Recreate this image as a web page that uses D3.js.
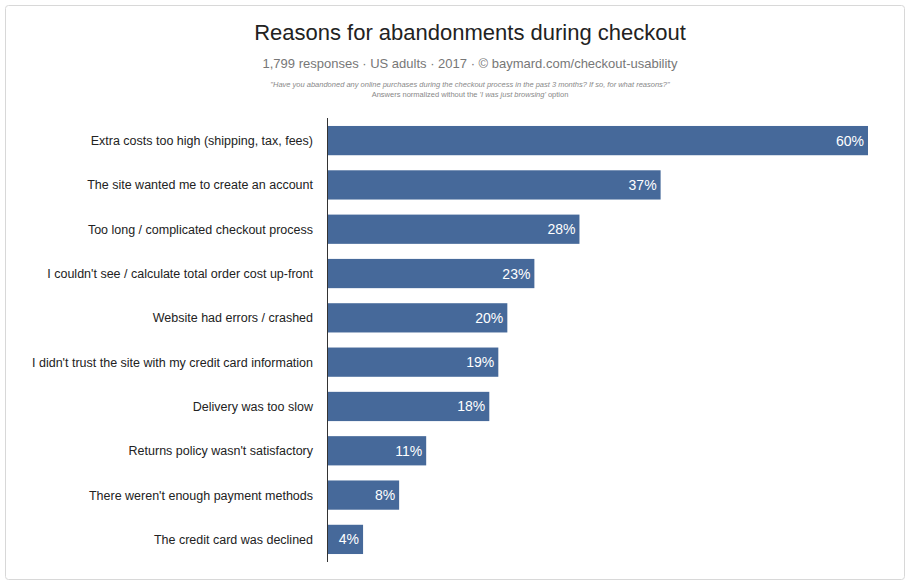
<!DOCTYPE html>
<html><head><meta charset="utf-8">
<script src="https://cdn.jsdelivr.net/npm/d3@7"></script>
<style>body{margin:0;background:#fff;font-family:"Helvetica Neue",Arial,"Liberation Sans",sans-serif}</style>
</head><body><div id="chart"></div>
<script>
const reasons = ["Extra costs too high (shipping, tax, fees)","The site wanted me to create an account","Too long / complicated checkout process","I couldn't see / calculate total order cost up-front","Website had errors / crashed","I didn't trust the site with my credit card information","Delivery was too slow","Returns policy wasn't satisfactory","There weren't enough payment methods","The credit card was declined"];
const shares = [60,37,28,23,20,19,18,11,8,4];

const svg = d3.select("#chart").append("svg").attr("width",910).attr("height",588);
svg.append("rect").attr("x",5.5).attr("y",5.5).attr("width",899).attr("height",574)
  .attr("rx",3).attr("fill","#fff").attr("stroke","#d8d8d8");

svg.append("text").attr("x",470).attr("y",40).attr("text-anchor","middle")
  .attr("font-size",22).attr("fill","#222").text("Reasons for abandonments during checkout");
svg.append("text").attr("x",470).attr("y",68).attr("text-anchor","middle")
  .attr("font-size",13).attr("fill","#777").text("1,799 responses  ·  US adults  ·  2017  ·  ©  baymard.com/checkout-usability");
svg.append("text").attr("x",470).attr("y",87).attr("text-anchor","middle")
  .attr("font-size",7.5).attr("font-style","italic").attr("fill","#888")
  .text("\"Have you abandoned any online purchases during the checkout process in the past 3 months? If so, for what reasons?\"");
svg.append("text").attr("x",470).attr("y",97).attr("text-anchor","middle")
  .attr("font-size",7.5).attr("fill","#888")
  .html("Answers normalized without the <tspan font-style='italic'>'I was just browsing'</tspan> option");

const x = d3.scaleLinear().domain([0,60]).range([327,868]);
const y = d3.scaleBand().domain(reasons).range([118,562]).paddingInner(0.34).paddingOuter(0.18);

svg.selectAll("rect.bar").data(reasons).join("rect").attr("class","bar")
  .attr("x",x(0)).attr("y",d=>y(d)).attr("height",y.bandwidth())
  .attr("width",(d,i)=>x(shares[i])-x(0)).attr("fill","#46699a");

svg.selectAll("text.val").data(reasons).join("text").attr("class","val")
  .attr("x",(d,i)=>x(shares[i])-4).attr("y",d=>y(d)+y.bandwidth()/2+5)
  .attr("text-anchor","end").attr("font-size",14).attr("fill","#fff")
  .text((d,i)=>shares[i]+"%");

svg.selectAll("text.lab").data(reasons).join("text").attr("class","lab")
  .attr("x",313).attr("y",d=>y(d)+y.bandwidth()/2+4.5)
  .attr("text-anchor","end").attr("font-size",12.5).attr("fill","#222").text(d=>d);

svg.append("line").attr("x1",327.5).attr("x2",327.5).attr("y1",118).attr("y2",562)
  .attr("stroke","#333");
</script></body></html>
